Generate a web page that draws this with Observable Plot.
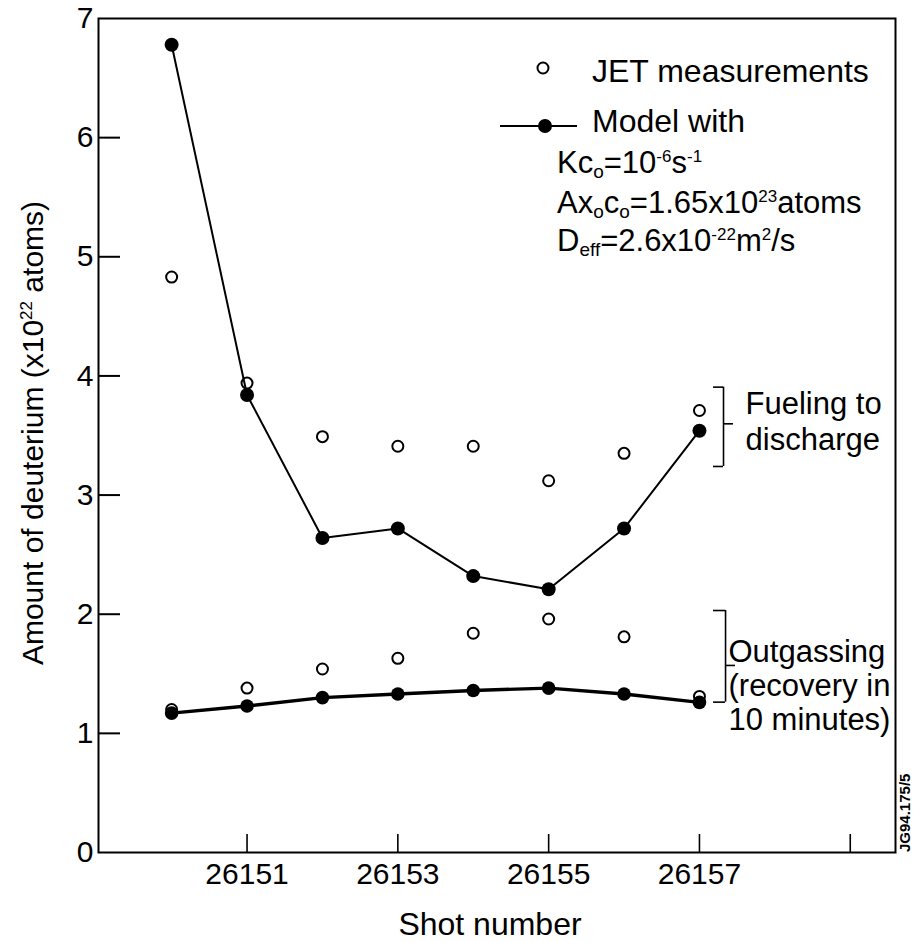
<!DOCTYPE html>
<html><head><meta charset="utf-8">
<script src="https://cdn.jsdelivr.net/npm/d3@7"></script>
<script src="https://cdn.jsdelivr.net/npm/@observablehq/plot@0.6"></script>
<style>
body{margin:0;background:#fff}
svg{display:block}
</style>
</head><body><div id="chart"></div>
<script>
const FONT = '"Liberation Sans", Arial, Helvetica, sans-serif';

// ---- data ----
const shots = [26150, 26151, 26152, 26153, 26154, 26155, 26156, 26157];
const modelFueling    = [6.78, 3.84, 2.64, 2.72, 2.32, 2.21, 2.72, 3.54];
const jetFueling      = [4.83, 3.94, 3.49, 3.41, 3.41, 3.12, 3.35, 3.71];
const modelOutgassing = [1.17, 1.23, 1.30, 1.33, 1.36, 1.38, 1.33, 1.26];
const jetOutgassing   = [1.20, 1.38, 1.54, 1.63, 1.84, 1.96, 1.81, 1.31];

const yTickValues = [0, 1, 2, 3, 4, 5, 6, 7];
const yInnerTicks = [1, 2, 3, 4, 5, 6];
const xTickValues = [26151, 26153, 26155, 26157, 26159];
const xTickLabels = ["26151", "26153", "26155", "26157", ""];
const xDomain = [26149.03, 26159.6];
const yDomain = [0, 7];

// bracket annotations (data coordinates)
const bracketLabels = ["Fueling to\ndischarge", "Outgassing\n(recovery in\n10 minutes)"];
const bracketX      = [26157.319, 26157.346];
const bracketHookX  = [26157.186, 26157.186];
const bracketMidX   = [26157.452, 26157.478];
const bracketTop    = [3.906, 2.031];
const bracketBottom = [3.240, 1.262];
const bracketMid    = [3.598, 1.570];
const bracketTextX  = [26157.611, 26157.385];
const bracketTextY  = [3.895, 1.805];

const toRows = (ys) => shots.map((s, i) => ({shot: s, v: ys[i]}));
const mf = toRows(modelFueling), jf = toRows(jetFueling);
const mo = toRows(modelOutgassing), jo = toRows(jetOutgassing);

const brackets = bracketLabels.map((label, i) => ({
  label, x: bracketX[i], hx: bracketHookX[i], mx: bracketMidX[i],
  top: bracketTop[i], bottom: bracketBottom[i], mid: bracketMid[i],
  tx: bracketTextX[i], ty: bracketTextY[i]
}));
const hooks = brackets.flatMap(b => [
  {y: b.top, x1: b.hx, x2: b.x},
  {y: b.bottom, x1: b.hx, x2: b.x},
  {y: b.mid, x1: b.x, x2: b.mx}
]);

const W = 916, H = 942;
const mL = 98, mR = 21, mT = 18, mB = 90;

const plot = Plot.plot({
  width: W, height: H,
  marginLeft: mL, marginRight: mR, marginTop: mT, marginBottom: mB,
  style: {fontFamily: FONT, fontSize: "30px", color: "#000", background: "#fff"},
  x: {domain: xDomain, type: "linear"},
  y: {domain: yDomain, type: "linear"},
  marks: [
    Plot.axisY(yTickValues, {tickSize: 0, tickPadding: 5, fontSize: 30, label: null, tickFormat: d => String(d)}),
    Plot.axisX(xTickValues, {tickSize: 0, tickPadding: 10, fontSize: 30, label: null,
      tickFormat: d => xTickLabels[xTickValues.indexOf(d)]}),
    Plot.tickY(yInnerTicks, {y: d => d, stroke: "#000", strokeWidth: 2, insetRight: (W - mL - mR) - 22}),
    Plot.tickX(xTickValues, {x: d => d, stroke: "#000", strokeWidth: 1.6, insetTop: (H - mT - mB) - 18}),
    Plot.frame({stroke: "#000", strokeWidth: 2}),
    // brackets
    Plot.ruleX(brackets, {x: "x", y1: "top", y2: "bottom", stroke: "#000", strokeWidth: 1.6}),
    Plot.ruleY(hooks, {y: "y", x1: "x1", x2: "x2", stroke: "#000", strokeWidth: 1.6}),
    Plot.text(brackets.slice(0, 1), {x: "tx", y: "ty", text: "label", textAnchor: "start", lineAnchor: "top",
      fontSize: 31, lineHeight: 1.16, fill: "#000"}),
    Plot.text(brackets.slice(1), {x: "tx", y: "ty", text: "label", textAnchor: "start", lineAnchor: "top",
      fontSize: 31, lineHeight: 1.1, fill: "#000"}),
    // measurements (open circles)
    Plot.dot(jf, {x: "shot", y: "v", r: 5.5, stroke: "#000", strokeWidth: 2, fill: "#fff"}),
    Plot.dot(jo, {x: "shot", y: "v", r: 5.5, stroke: "#000", strokeWidth: 2, fill: "#fff"}),
    // model
    Plot.line(mf, {x: "shot", y: "v", stroke: "#000", strokeWidth: 2}),
    Plot.dot(mf, {x: "shot", y: "v", r: 7, fill: "#000"}),
    Plot.line(mo, {x: "shot", y: "v", stroke: "#000", strokeWidth: 3.4}),
    Plot.dot(mo, {x: "shot", y: "v", r: 6.8, fill: "#000"})
  ]
});

document.getElementById("chart").appendChild(plot);

const svg = d3.select(plot);

function rich(g, px, py, parts, size, anchor) {
  const t = g.append("text").attr("x", px).attr("y", py)
    .attr("font-size", size).attr("font-family", FONT).attr("fill", "#000")
    .attr("text-anchor", anchor || "start");
  let cur = 0;
  for (const p of parts) {
    const off = p.sub ? 5 : p.sup ? -11 : 0;
    const fs = p.sub ? 19 : p.sup ? 17 : size;
    t.append("tspan").attr("dy", off - cur).attr("font-size", fs).text(p.t);
    cur = off;
  }
  return t;
}

const ann = svg.append("g").attr("text-anchor", "start");

// legend
ann.append("circle").attr("cx", 543).attr("cy", 68).attr("r", 5.5)
  .attr("fill", "#fff").attr("stroke", "#000").attr("stroke-width", 2);
rich(ann, 592, 82, [{t: "JET measurements"}], 32);
ann.append("line").attr("x1", 500).attr("x2", 577).attr("y1", 126).attr("y2", 126)
  .attr("stroke", "#000").attr("stroke-width", 2);
ann.append("circle").attr("cx", 545).attr("cy", 126).attr("r", 7).attr("fill", "#000");
rich(ann, 592, 132, [{t: "Model with"}], 32);
rich(ann, 557, 173, [{t: "Kc"}, {t: "o", sub: 1}, {t: "=10"}, {t: "-6", sup: 1}, {t: "s"}, {t: "-1", sup: 1}], 31);
rich(ann, 557, 213, [{t: "Ax"}, {t: "o", sub: 1}, {t: "c"}, {t: "o", sub: 1}, {t: "=1.65x10"}, {t: "23", sup: 1}, {t: "atoms"}], 31);
rich(ann, 557, 251, [{t: "D"}, {t: "eff", sub: 1}, {t: "=2.6x10"}, {t: "-22", sup: 1}, {t: "m"}, {t: "2", sup: 1}, {t: "/s"}], 31);

// axis titles
const yl = ann.append("g").attr("transform", "translate(43,433) rotate(-90)");
rich(yl, 0, 0, [{t: "Amount of deuterium (x10"}, {t: "22", sup: 1}, {t: " atoms)"}], 30, "middle");
rich(ann, 490, 935, [{t: "Shot number"}], 32, "middle");

// figure id
ann.append("text").attr("transform", "translate(910,852) rotate(-90)")
  .attr("font-size", 15).attr("font-weight", "bold").attr("font-family", FONT)
  .attr("text-anchor", "start").text("JG94.175/5");
</script>
</body></html>
